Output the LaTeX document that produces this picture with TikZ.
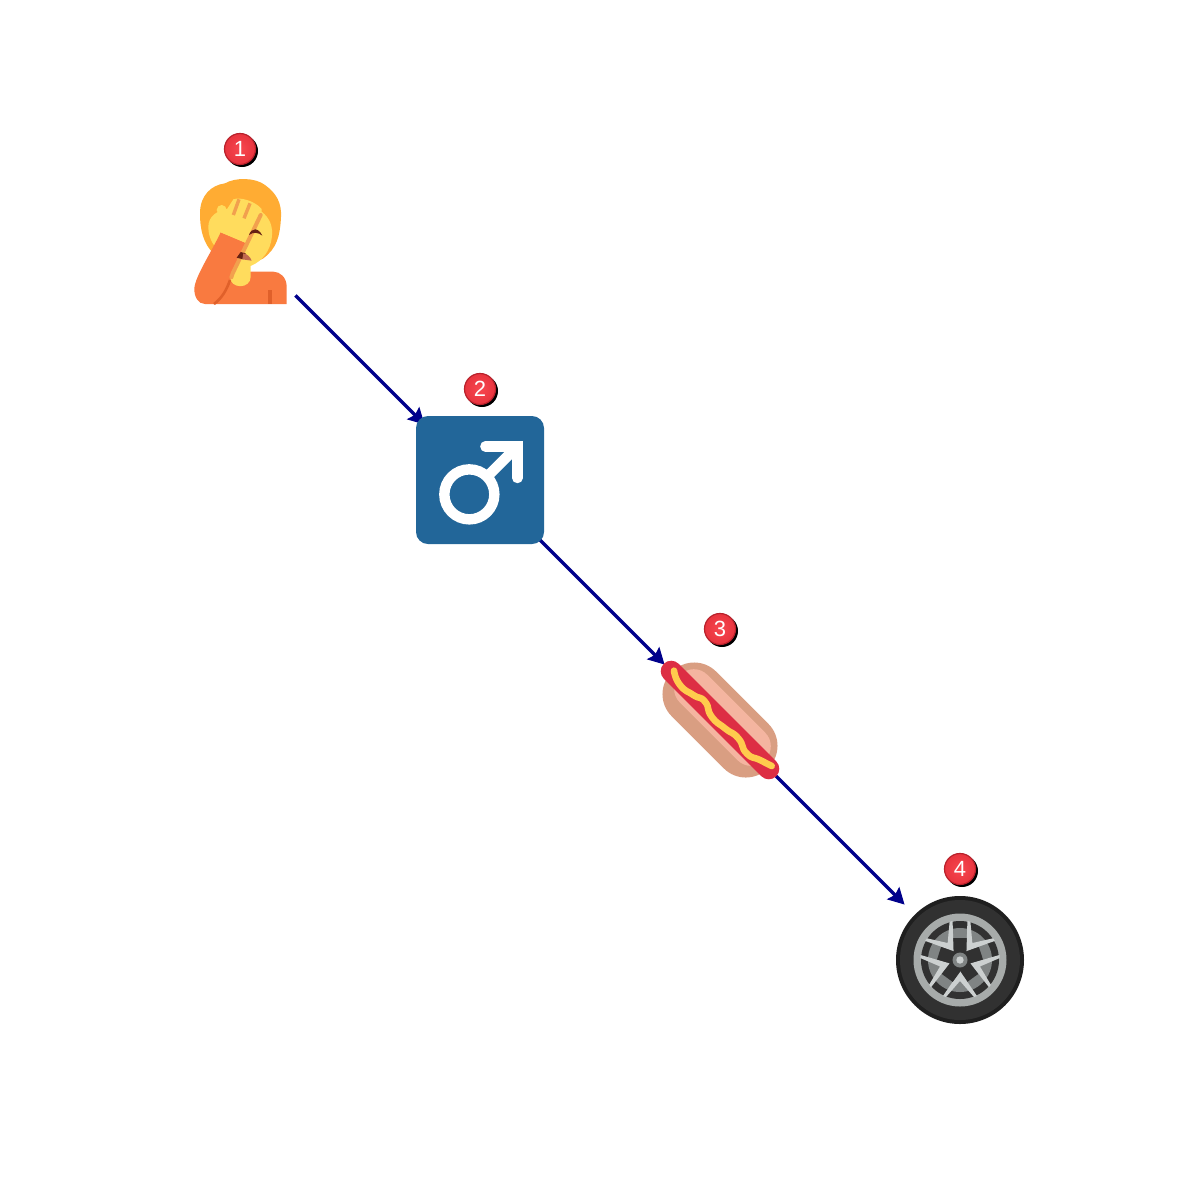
\documentclass[tikz,border=0pt]{standalone}
\usepackage{fontspec}
\setmainfont{Liberation Sans}
\usetikzlibrary{arrows.meta}
\definecolor{linkblue}{HTML}{00008B}
\definecolor{badgered}{HTML}{F7474F}
\definecolor{badgeout}{HTML}{E8343E}
\definecolor{badgerim}{HTML}{B8222C}
\definecolor{hairc}{HTML}{FFAC33}
\definecolor{skinc}{HTML}{FFDC5D}
\definecolor{shirtc}{HTML}{F97A40}
\definecolor{shirtd}{HTML}{E0602A}
\definecolor{fingerc}{HTML}{F2A04E}
\definecolor{browc}{HTML}{662113}
\definecolor{mouthc}{HTML}{C1694F}
\definecolor{malec}{HTML}{226699}
\definecolor{bunc}{HTML}{D99E82}
\definecolor{bunin}{HTML}{F4B5A0}
\definecolor{sausc}{HTML}{DD2E44}
\definecolor{mustc}{HTML}{FFCC4D}
\definecolor{tyreo}{HTML}{1F1F1F}
\definecolor{tyrei}{HTML}{313131}
\definecolor{rimc}{HTML}{A7ABAA}
\definecolor{spokec}{HTML}{CCD0D0}
\definecolor{discc}{HTML}{808484}
\begin{document}
\begin{tikzpicture}[x=0.5pt, y=-0.5pt,
    item/.style = {circle, minimum size = 78pt, inner sep = 0pt},
    link/.style = {draw = linkblue, line width = 1.7pt, -{Stealth[length = 8pt, width = 8.5pt, inset = 1.2pt]}},
    badge/.style = {circle, minimum size = 15.5pt, inner sep = 0pt, inner color = badgered, outer color = badgeout, draw = badgerim, line width = 0.6pt, text = white, font = \fontsize{11}{11}\selectfont},
    badgeshadow/.style = {circle, minimum size = 16pt, inner sep = 0pt, fill = black}]
  \useasboundingbox (0,0) rectangle (1200,1200);
  \node[item] (face) at (240,240) {};
  \node[item] (male) at (480,480) {};
  \node[item] (hotdog) at (720,720) {};
  \node[item] (wheel) at (960,960) {};
  \draw[link] (face) -- (male);
  \draw[link] (male) -- (hotdog);
  \draw[link] (hotdog) -- (wheel);
  % person
  \begin{scope}[shift = {(190,190)}, x=0.1667pt, y=-0.1667pt]
    \fill[hairc] (30,70) .. controls (30,15) and (65,-15) .. (105,-20) .. controls (135,-38) and (195,-38) .. (225,-15) .. controls (260,10) and (275,40) .. (273,80) .. controls (270,140) and (260,175) .. (220,205) -- (170,230) -- (70,190) .. controls (40,160) and (30,120) .. (30,70) -- cycle;
    \fill[shirtc] (70,342) -- (290,342) -- (290,290) .. controls (290,262) and (270,245) .. (250,245) -- (170,245) -- (100,280) -- cycle;
    \fill[skinc] (55,110) .. controls (55,80) and (80,60) .. (120,55) -- (215,65) .. controls (240,85) and (250,110) .. (245,145) .. controls (240,180) and (220,212) .. (182,228) -- (182,260) .. controls (182,298) and (120,298) .. (120,260) -- (100,195) .. controls (70,170) and (55,145) .. (55,110) -- cycle;
    \fill[shirtc] (92,127) -- (175,162) -- (125,262) .. controls (110,295) and (100,325) .. (72,342) -- (45,342) .. controls (25,342) and (12,320) .. (13,295) .. controls (15,260) and (65,185) .. (92,127) -- cycle;
    \fill[skinc] (95,60) circle [radius = 15];
    \fill[skinc] (92,127) -- (88,80) -- (108,62) -- (130,28) .. controls (150,20) and (195,33) .. (215,57) .. controls (218,75) and (195,130) .. (175,162) -- cycle;
    \draw[fingerc, line width = 1.7pt] (147,28) -- (130,75);
    \draw[fingerc, line width = 1.7pt] (180,40) -- (162,85);
    \draw[fingerc, line width = 2pt, line cap = round] (212,75) -- (128,250) -- (124,262);
    \draw[shirtd, line width = 1.3pt] (120,270) .. controls (110,300) and (95,325) .. (72,342);
    \draw[shirtd, line width = 1.7pt] (240,300) -- (240,342);
    \fill[browc] (177,135) .. controls (185,112) and (205,112) .. (217,137) .. controls (205,127) and (190,125) .. (177,135) -- cycle;
    \fill[browc] (140,203) -- (152,186) -- (167,190) -- (160,208) -- cycle;
    \fill[mouthc] (160,190) .. controls (172,192) and (180,200) .. (185,212) -- (157,208) -- cycle;
  \end{scope}
  % male sign
  \fill[malec, rounded corners = 6pt] (416,416) rectangle (544,544);
  \begin{scope}[shift = {(400,365)}, x=0.1667pt, y=-0.1667pt]
    \draw[white, line width = 5.2pt] (208,388) circle [radius = 75];
    \draw[white, line width = 5.2pt] (265,331) -- (345,251);
    \draw[white, line width = 5.2pt, line cap = round] (256,244) -- (352,244) -- (352,339);
  \end{scope}
  % hot dog
  \begin{scope}[shift = {(720,720)}, rotate = -45]
    \fill[bunc, rounded corners = 15.5pt] (-68,-31.5) rectangle (68,31.5);
    \fill[bunin, rounded corners = 9.5pt] (-60,-23) rectangle (60,16);
    \draw[sausc, line width = 10.5pt, line cap = round] (-69,0) -- (69,0);
  \end{scope}
  \begin{scope}[shift = {(660,660)}, x=0.1667pt, y=-0.1667pt]
    \draw[mustc, line width = 3.3pt, line cap = round, line join = round] plot[smooth, tension = 1] coordinates {(42,32) (60,75) (100,105) (135,125) (155,170) (195,205) (235,235) (260,280) (300,300) (335,318)};
  \end{scope}
  % wheel
  \fill[tyreo] (960,960) circle [radius = 64];
  \fill[tyrei] (960,960) circle [radius = 60];
  \fill[rimc] (960,960) circle [radius = 46.5];
  \fill[tyrei] (960,960) circle [radius = 39];
  \fill[discc] (960,960) circle [radius = 32];
  \fill[tyrei] (960,960) circle [radius = 12];
  \foreach \ang in {-90,-18,54,126,198} {
    \begin{scope}[shift = {(960,960)}, rotate = \ang + 36]
      \fill[tyrei] (9,-7) -- (22,-7) -- (22,7) -- (9,7) -- cycle;
    \end{scope}
    \begin{scope}[shift = {(960,960)}, rotate = \ang]
      \fill[spokec] (11,0) -- (36,-17) -- (37,-14) -- (21,0) -- (37,14) -- (36,17) -- cycle;
    \end{scope}
  }
  \fill[discc] (960,960) circle [radius = 7.5];
  \fill[spokec] (960,960) circle [radius = 3.7];
  % badges
  \foreach \nm/\px/\py/\lbl in {one/240/149/1, two/480/389/2, three/720/629/3, four/960/869/4} {
    \node[badgeshadow] (\nm s) at (\px+2,\py+2) {};
    \node[badge] (\nm) at (\px,\py) {\lbl};
  }
\end{tikzpicture}
\end{document}
